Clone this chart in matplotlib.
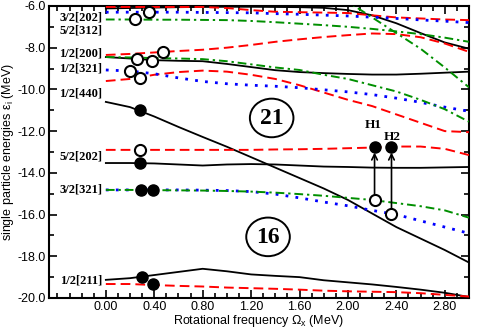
import numpy as np
import matplotlib
matplotlib.use("Agg")
import matplotlib.pyplot as plt
from matplotlib.patches import Ellipse
from matplotlib.ticker import MultipleLocator, FixedLocator

nan = np.nan
omega = [0.0, 0.2, 0.4, 0.6, 0.8, 1.0, 1.2, 1.4, 1.6, 1.8, 2.0, 2.2, 2.4, 2.6, 2.8, 3.0]

# upper levels
blk_202_32 = [-6.12, -6.10, -6.08, -6.06, -6.05, -6.04, -6.04, -6.05, -6.06, -6.09, -6.20, -6.45, -6.83, -7.30, -7.75, -8.05]
red_top    = [-6.05, -6.05, -6.05, -6.05, -6.05, -6.10, -6.20, -6.28, -6.30, -6.32, -6.34, -6.45, -6.55, -6.60, -6.65, -6.68]
blu_top    = [-6.30, -6.30, -6.30, -6.30, -6.31, -6.32, -6.33, -6.37, -6.40, -6.44, -6.48, -6.54, -6.60, -6.67, -6.73, -6.80]
grn_312_52 = [-6.65, -6.65, -6.66, -6.66, -6.67, -6.68, -6.72, -6.78, -6.85, -6.92, -7.00, -7.10, -7.22, -7.35, -7.52, -7.72]
grn_steep  = [nan, nan, nan, nan, nan, nan, nan, nan, nan, -5.30, -5.80, -6.55, -7.30, -8.05, -8.95, -9.90]
red_200_12 = [-8.35, -8.30, -8.23, -8.16, -8.10, -8.00, -7.87, -7.72, -7.60, -7.49, -7.40, -7.32, -7.35, -7.50, -7.80, -8.20]
blk_200_12 = [-8.45, -8.52, -8.60, -8.63, -8.65, -8.78, -8.93, -9.08, -9.17, -9.22, -9.26, -9.29, -9.29, -9.25, -9.20, -9.15]
grn_200_12 = [-8.45, -8.47, -8.50, -8.52, -8.55, -8.65, -8.80, -8.95, -9.07, -9.30, -9.50, -9.80, -10.10, -10.50, -10.95, -11.55]
blu_321_12 = [-9.07, -9.12, -9.25, -9.45, -9.62, -9.73, -9.80, -9.85, -9.92, -10.02, -10.12, -10.25, -10.42, -10.62, -10.85, -11.05]
red_321_12 = [-9.60, -9.50, -9.30, -9.17, -9.10, -9.15, -9.30, -9.50, -9.80, -10.15, -10.50, -10.80, -11.20, -11.60, -12.00, -12.05]
blk_440_12 = [-10.60, -10.85, -11.30, -11.80, -12.28, -12.75, -13.25, -13.75, -14.25, -14.75, -15.30, -15.95, -16.60, -17.15, -17.70, -18.30]
red_202_52 = [-12.90, -12.90, -12.90, -12.90, -12.90, -12.90, -12.90, -12.88, -12.87, -12.85, -12.82, -12.79, -12.74, -12.74, -12.85, -13.15]
blk_202_52 = [-13.53, -13.53, -13.55, -13.60, -13.65, -13.60, -13.58, -13.60, -13.65, -13.70, -13.72, -13.75, -13.76, -13.76, -13.74, -13.72]
blu_321_32 = [-14.82, -14.82, -14.82, -14.82, -14.83, -14.85, -14.90, -15.02, -15.20, -15.40, -15.58, -15.80, -16.00, -16.30, -16.60, -16.90]
grn_321_32 = [-14.82, -14.82, -14.83, -14.84, -14.85, -14.87, -14.90, -14.95, -15.02, -15.10, -15.20, -15.30, -15.45, -15.60, -15.80, -16.15]
blk_211_12 = [-19.13, -19.05, -18.90, -18.75, -18.60, -18.72, -18.87, -18.94, -19.00, -19.15, -19.25, -19.35, -19.47, -19.60, -19.75, -19.95]
red_211_12 = [-19.33, -19.33, -19.38, -19.42, -19.45, -19.50, -19.53, -19.56, -19.60, -19.65, -19.68, -19.70, -19.72, -19.77, -19.85, -19.93]

open_x = [0.24, 0.355, 0.47, 0.26, 0.38, 0.20, 0.28, 0.28, 2.22, 2.36]
open_y = [-6.62, -6.30, -8.20, -8.55, -8.64, -9.10, -9.45, -12.90, -15.30, -15.97]
fill_x = [0.28, 0.28, 0.29, 0.39, 0.30, 0.39, 2.22, 2.36]
fill_y = [-10.98, -13.53, -14.82, -14.82, -18.98, -19.33, -12.76, -12.76]

level_labels = ["3/2[202]", "5/2[312]", "1/2[200]", "1/2[321]", "1/2[440]", "5/2[202]", "3/2[321]", "1/2[211]"]
level_label_y = [-6.54, -7.20, -8.30, -9.02, -10.22, -13.22, -14.82, -19.18]

RED, BLUE, GREEN = "#ff0000", "#0000ff", "#008f00"

fig = plt.figure(figsize=(4.8, 3.3), dpi=100)
ax = fig.add_axes([0.102, 0.097, 0.875, 0.885])

def solid(y):
    ax.plot(omega, y, color="black", lw=1.3, zorder=3)
def dashed(y):
    ax.plot(omega, y, color=RED, lw=1.4, dashes=(5.0, 2.6), zorder=3)
def dotted(y):
    ax.plot(omega, y, color=BLUE, lw=2.0, linestyle=(0, (1.0, 2.6)), zorder=3)
def dashdot(y):
    ax.plot(omega, y, color=GREEN, lw=1.4, linestyle=(0, (4.5, 2.0, 1.2, 2.0)), zorder=3)

for y in [blk_202_32, blk_200_12, blk_440_12, blk_202_52, blk_211_12]:
    solid(y)
for y in [red_top, red_200_12, red_321_12, red_202_52, red_211_12]:
    dashed(y)
for y in [blu_top, blu_321_12, blu_321_32]:
    dotted(y)
for y in [grn_312_52, grn_steep, grn_200_12, grn_321_32]:
    dashdot(y)

# arrows H1, H2
for i in (8, 9):
    j = 6 if i == 8 else 7
    ax.annotate("", xy=(fill_x[j], fill_y[j]), xytext=(open_x[i], open_y[i]),
                arrowprops=dict(arrowstyle="->", lw=1.2, color="black",
                                shrinkA=4, shrinkB=4, mutation_scale=10), zorder=4)

ax.plot(open_x, open_y, 'o', ms=8, mfc="white", mec="black", mew=1.5, zorder=5, clip_on=False)
ax.plot(fill_x, fill_y, 'o', ms=8, mfc="black", mec="black", zorder=5, clip_on=False)

serif = ["Liberation Serif", "DejaVu Serif"]
for t, yy in zip(level_labels, level_label_y):
    ax.text(-0.03, yy, t, ha="right", va="center", fontsize=9, fontweight="bold", family=serif)

ax.text(2.21, -11.70, "H1", ha="center", va="center", fontsize=9.5, fontweight="bold", family=serif)
ax.text(2.37, -12.28, "H2", ha="center", va="center", fontsize=9.5, fontweight="bold", family=serif)

for cx, cy, t in [(1.37, -11.37, "21"), (1.34, -17.07, "16")]:
    ax.add_patch(Ellipse((cx, cy), 0.36, 1.85, fill=False, lw=1.4, ec="black", zorder=4))
    ax.text(cx, cy - 0.03, t, ha="center", va="center", fontsize=17, fontweight="bold", family=serif, zorder=5)

ax.set_xlim(-0.47, 3.0)
ax.set_ylim(-20, -6)
ax.xaxis.set_major_locator(FixedLocator([0.0, 0.4, 0.8, 1.2, 1.6, 2.0, 2.4, 2.8]))
ax.xaxis.set_minor_locator(FixedLocator(list(np.round(np.arange(-0.4, 3.0, 0.1), 2))))
ax.yaxis.set_major_locator(MultipleLocator(2))
ax.yaxis.set_minor_locator(MultipleLocator(1))
ax.xaxis.set_major_formatter(matplotlib.ticker.FormatStrFormatter("%.2f"))
ax.yaxis.set_major_formatter(matplotlib.ticker.FormatStrFormatter("%.1f"))

sans = ["Liberation Sans", "DejaVu Sans"]
ax.tick_params(which="both", direction="in", top=True, right=True, width=1.2)
ax.tick_params(which="major", length=6, labelsize=9)
ax.tick_params(axis="x", which="major", pad=2)
ax.tick_params(axis="y", which="major", pad=2)
ax.tick_params(which="minor", length=3.5)
for lab in ax.get_xticklabels() + ax.get_yticklabels():
    lab.set_family(sans)
for s in ax.spines.values():
    s.set_linewidth(1.5)

ax.set_xlabel("Rotational frequency Ω$_\\mathregular{x}$ (MeV)", fontsize=9, family=sans, labelpad=0)
ax.set_ylabel("single particle energies ε$_\\mathregular{i}$ (MeV)", fontsize=9, family=sans, labelpad=1)

fig.savefig("out.png", dpi=100)
